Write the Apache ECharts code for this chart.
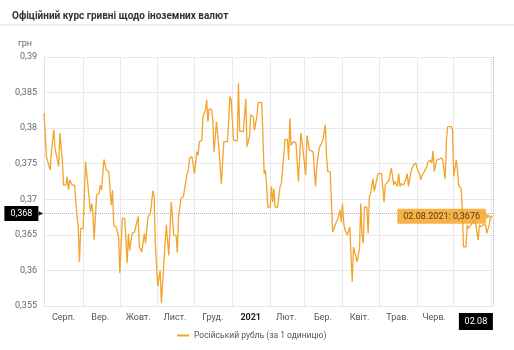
<!DOCTYPE html>
<html>
<head>
<meta charset="utf-8">
<script src="https://cdn.jsdelivr.net/npm/echarts@6/dist/echarts.min.js"></script>
<style>
  html, body { margin: 0; padding: 0; background: #fff; }
  #chart { width: 514px; height: 350px; }
</style>
</head>
<body>
<div id="chart"></div>
<script>
// Official NBU rate of the Russian rouble (UAH per 1 RUB)
const dates = [
  '2020-07-31','2020-08-02','2020-08-03','2020-08-05','2020-08-06','2020-08-08','2020-08-09','2020-08-10',
  '2020-08-12','2020-08-13','2020-08-15','2020-08-16','2020-08-18','2020-08-19','2020-08-20','2020-08-21',
  '2020-08-23','2020-08-25','2020-08-27','2020-08-28','2020-08-29','2020-08-30','2020-09-01','2020-09-03',
  '2020-09-05','2020-09-07','2020-09-08','2020-09-09','2020-09-10','2020-09-12','2020-09-14','2020-09-15',
  '2020-09-16','2020-09-18','2020-09-20','2020-09-22','2020-09-23','2020-09-24','2020-09-25','2020-09-26',
  '2020-09-28','2020-09-30','2020-10-01','2020-10-03','2020-10-05','2020-10-07','2020-10-08','2020-10-09',
  '2020-10-11','2020-10-13','2020-10-16','2020-10-17','2020-10-19','2020-10-20','2020-10-21','2020-10-22',
  '2020-10-24','2020-10-26','2020-10-28','2020-10-29','2020-10-30','2020-11-01','2020-11-02','2020-11-03',
  '2020-11-04','2020-11-06','2020-11-08','2020-11-09','2020-11-10','2020-11-12','2020-11-13','2020-11-14',
  '2020-11-16','2020-11-17','2020-11-18','2020-11-20','2020-11-22','2020-11-25','2020-11-26','2020-11-27',
  '2020-11-29','2020-12-01','2020-12-03','2020-12-04','2020-12-05','2020-12-07','2020-12-08','2020-12-10',
  '2020-12-11','2020-12-12','2020-12-13','2020-12-15','2020-12-16','2020-12-17','2020-12-19','2020-12-20',
  '2020-12-21','2020-12-23','2020-12-25','2020-12-28','2020-12-30','2020-12-31','2021-01-02','2021-01-05',
  '2021-01-06','2021-01-07','2021-01-10','2021-01-12','2021-01-13','2021-01-15','2021-01-16','2021-01-18',
  '2021-01-19','2021-01-21','2021-01-22','2021-01-25','2021-01-26','2021-01-27','2021-01-28','2021-01-29',
  '2021-01-30','2021-02-01','2021-02-02','2021-02-03','2021-02-04','2021-02-05','2021-02-07','2021-02-09',
  '2021-02-10','2021-02-12','2021-02-13','2021-02-15','2021-02-16','2021-02-17','2021-02-18','2021-02-20',
  '2021-02-22','2021-02-24','2021-02-26','2021-02-27','2021-02-28','2021-03-02','2021-03-03','2021-03-05',
  '2021-03-08','2021-03-10','2021-03-11','2021-03-13','2021-03-14','2021-03-16','2021-03-18','2021-03-19',
  '2021-03-20','2021-03-22','2021-03-24','2021-03-27','2021-03-28','2021-03-30','2021-03-31','2021-04-01',
  '2021-04-02','2021-04-03','2021-04-05','2021-04-07','2021-04-09','2021-04-10','2021-04-11','2021-04-13',
  '2021-04-15','2021-04-16','2021-04-17','2021-04-18','2021-04-19','2021-04-21','2021-04-22','2021-04-23',
  '2021-04-24','2021-04-26','2021-04-27','2021-04-29','2021-04-30','2021-05-03','2021-05-05','2021-05-06',
  '2021-05-07','2021-05-09','2021-05-11','2021-05-13','2021-05-14','2021-05-16','2021-05-17','2021-05-18',
  '2021-05-19','2021-05-21','2021-05-23','2021-05-24','2021-05-25','2021-05-27','2021-05-29','2021-05-31',
  '2021-06-01','2021-06-03','2021-06-04','2021-06-05','2021-06-07','2021-06-09','2021-06-10','2021-06-12',
  '2021-06-13','2021-06-14','2021-06-15','2021-06-17','2021-06-18','2021-06-21','2021-06-22','2021-06-24',
  '2021-06-25','2021-06-26','2021-06-29','2021-06-30','2021-07-01','2021-07-03','2021-07-04','2021-07-05',
  '2021-07-07','2021-07-08','2021-07-09','2021-07-11','2021-07-12','2021-07-13','2021-07-15','2021-07-16',
  '2021-07-18','2021-07-19','2021-07-21','2021-07-22','2021-07-23','2021-07-25','2021-07-27','2021-07-28',
  '2021-07-29','2021-07-30','2021-07-31','2021-08-02'
];

const rates = [
  0.3821,0.3760,0.3758,0.3741,0.3765,0.3798,0.3772,0.3770,
  0.3746,0.3793,0.3755,0.3720,0.3720,0.3732,0.3713,0.3727,
  0.3720,0.3720,0.3675,0.3661,0.3612,0.3659,0.3659,0.3753,
  0.3718,0.3682,0.3694,0.3682,0.3643,0.3706,0.3708,0.3720,
  0.3713,0.3756,0.3741,0.3739,0.3713,0.3692,0.3713,0.3664,
  0.3661,0.3647,0.3596,0.3673,0.3673,0.3610,0.3652,0.3628,
  0.3652,0.3654,0.3676,0.3633,0.3626,0.3628,0.3652,0.3638,
  0.3675,0.3680,0.3712,0.3704,0.3638,0.3578,0.3578,0.3600,
  0.3554,0.3610,0.3664,0.3664,0.3621,0.3696,0.3675,0.3650,
  0.3649,0.3625,0.3675,0.3701,0.3704,0.3736,0.3741,0.3758,
  0.3760,0.3736,0.3767,0.3762,0.3781,0.3783,0.3816,0.3826,
  0.3840,0.3809,0.3827,0.3826,0.3812,0.3767,0.3809,0.3809,
  0.3772,0.3722,0.3781,0.3781,0.3844,0.3840,0.3783,0.3782,
  0.3863,0.3796,0.3795,0.3841,0.3774,0.3788,0.3819,0.3816,
  0.3797,0.3816,0.3836,0.3836,0.3788,0.3736,0.3741,0.3720,
  0.3689,0.3689,0.3718,0.3696,0.3715,0.3689,0.3689,0.3718,
  0.3722,0.3760,0.3784,0.3784,0.3755,0.3814,0.3776,0.3781,
  0.3779,0.3725,0.3793,0.3781,0.3783,0.3734,0.3790,0.3769,
  0.3767,0.3718,0.3746,0.3772,0.3773,0.3783,0.3805,0.3760,
  0.3739,0.3739,0.3654,0.3668,0.3671,0.3685,0.3668,0.3694,
  0.3668,0.3657,0.3650,0.3661,0.3584,0.3633,0.3633,0.3612,
  0.3631,0.3694,0.3650,0.3638,0.3689,0.3689,0.3652,0.3704,
  0.3708,0.3729,0.3711,0.3727,0.3736,0.3736,0.3696,0.3720,
  0.3720,0.3727,0.3744,0.3720,0.3725,0.3718,0.3736,0.3718,
  0.3722,0.3720,0.3729,0.3736,0.3718,0.3739,0.3748,0.3751,
  0.3744,0.3736,0.3727,0.3734,0.3739,0.3746,0.3753,0.3755,
  0.3751,0.3768,0.3739,0.3755,0.3755,0.3758,0.3755,0.3729,
  0.3783,0.3802,0.3802,0.3797,0.3732,0.3755,0.3741,0.3720,
  0.3715,0.3685,0.3633,0.3633,0.3664,0.3659,0.3664,0.3664,
  0.3671,0.3664,0.3643,0.3664,0.3661,0.3664,0.3664,0.3652,
  0.3652,0.3664,0.3675,0.3676
];

// Axis ticks and labels
const yTicks = [0.355, 0.36, 0.365, 0.37, 0.375, 0.38, 0.385, 0.39];
const monthStarts = ['2020-09-01','2020-10-01','2020-11-01','2020-12-01','2021-01-01','2021-02-01',
                     '2021-03-01','2021-04-01','2021-05-01','2021-06-01','2021-07-01','2021-08-01'];
const monthLabelDates = ['2020-08-16','2020-09-15','2020-10-16','2020-11-15','2020-12-16','2021-01-16',
                         '2021-02-14','2021-03-16','2021-04-15','2021-05-16','2021-06-15'];
const monthNames = ['Січ.','Лют.','Бер.','Квіт.','Трав.','Черв.','Лип.','Серп.','Вер.','Жовт.','Лист.','Груд.'];
const seriesName = 'Російський рубль (за 1 одиницю)';
const titleText = 'Офіційний курс гривні щодо іноземних валют';
const unitName = 'грн';

const ts = s => { const p = s.split('-').map(Number); return new Date(p[0], p[1] - 1, p[2]).getTime(); };
const pad2 = n => (n < 10 ? '0' : '') + n;
const comma = v => String(v).replace('.', ',');

const lastIdx = dates.length - 1;
const lastTs = ts(dates[lastIdx]);
const lastRate = rates[lastIdx];
const lastDay = new Date(lastTs);
const lastShort = pad2(lastDay.getDate()) + '.' + pad2(lastDay.getMonth() + 1);
const lastFull = lastShort + '.' + lastDay.getFullYear();
const levelMark = Number(lastRate.toFixed(3));

const lineColor = '#F2A42C';
const lineData = dates.map((d, i) => [ts(d), rates[i]]);

const chart = echarts.init(document.getElementById('chart'), null, { renderer: 'canvas' });
chart.setOption({
  animation: false,
  textStyle: { fontFamily: 'Roboto, "Noto Sans", sans-serif' },
  title: {
    text: titleText,
    left: 7, top: 6,
    textStyle: { fontSize: 10, fontWeight: 'bold', color: '#333' }
  },
  graphic: [{
    type: 'rect', left: 0, top: 24, silent: true,
    shape: { width: 514, height: 2 },
    style: { fill: '#ededed' }
  }],
  legend: {
    data: [seriesName],
    bottom: 5, left: 172,
    icon: 'path://M0,0 L12,0 L12,2 L0,2 Z',
    itemWidth: 12, itemHeight: 2, itemGap: 6,
    textStyle: { fontSize: 8.5, color: '#555' }
  },
  grid: { left: 44, right: 19, top: 57, bottom: 44 },
  xAxis: {
    // timestamps on a linear scale, so month gridlines and mid-month labels can be placed freely
    type: 'value',
    min: ts(dates[0]), max: lastTs,
    axisLine: { show: false },
    axisTick: { show: false, customValues: monthStarts.map(ts) },
    splitLine: { show: true, lineStyle: { color: '#e9e9e9', width: 1 } },
    axisLabel: {
      customValues: monthLabelDates.map(ts).concat([lastTs]),
      margin: 7, fontSize: 9, color: '#555',
      formatter: function (value) {
        if (value === lastTs) return '{d|' + lastShort + '}{s| }';
        const m = new Date(value).getMonth();
        if (m === 0) return '{y|' + new Date(value).getFullYear() + '}';
        return monthNames[m];
      },
      rich: {
        y: { fontWeight: 'bold', color: '#222', fontSize: 9 },
        d: { backgroundColor: '#000', color: '#fff', fontSize: 9, width: 24, align: 'center', padding: [4, 5] },
        s: { width: 34 }
      }
    }
  },
  yAxis: {
    type: 'value',
    min: 0.355, max: 0.39, interval: 0.005,
    name: unitName,
    nameGap: 9,
    nameTextStyle: { color: '#666', fontSize: 9, align: 'right', padding: [0, 12, 0, 0] },
    axisLine: { show: true, lineStyle: { color: '#e3e3e3' } },
    axisTick: { show: false },
    splitLine: { lineStyle: { color: '#e9e9e9' } },
    axisLabel: {
      customValues: yTicks.concat([levelMark]),
      margin: 1, fontSize: 9, color: '#666',
      formatter: function (v) {
        if (Math.abs(v - levelMark) < 1e-9) return '{p|' + comma(levelMark) + '}{a|▶}';
        return '{n|' + comma(v) + '}';
      },
      rich: {
        n: { color: '#666', fontSize: 9, padding: [0, 6, 0, 0] },
        p: { backgroundColor: '#000', color: '#fff', fontSize: 9, padding: [3, 6] },
        a: { color: '#000', fontSize: 6, fontFamily: 'DejaVu Sans' }
      }
    }
  },
  series: [{
    name: seriesName,
    type: 'line',
    data: lineData,
    showSymbol: false,
    symbol: 'none',
    color: lineColor,
    lineStyle: { color: lineColor, width: 1.3 },
    markLine: {
      silent: true,
      precision: 4,
      symbol: ['none', 'none'],
      label: { show: false },
      lineStyle: { type: 'dotted', color: '#b5b5b5', width: 1 },
      data: [{ yAxis: levelMark }, { xAxis: lastTs }]
    }
  }, {
    name: 'last',
    type: 'scatter',
    silent: true,
    symbolSize: 1,
    itemStyle: { color: 'rgba(0,0,0,0)' },
    z: 5,
    data: [[lastTs, lastRate]],
    label: {
      show: true,
      position: 'left',
      distance: 1,
      formatter: '{t|' + lastFull + ': ' + comma(lastRate) + '}{a|▶}',
      rich: {
        t: { backgroundColor: '#F59F1C', color: '#2b2200', fontSize: 9, padding: [3, 6], borderRadius: 1 },
        a: { color: '#F59F1C', fontSize: 7, fontFamily: 'DejaVu Sans' }
      }
    }
  }]
});
</script>
</body>
</html>
